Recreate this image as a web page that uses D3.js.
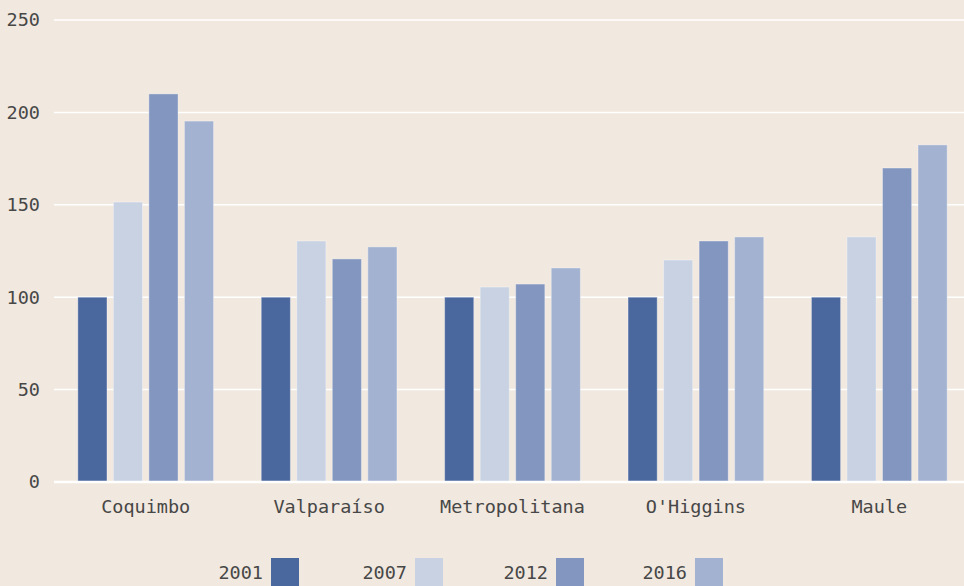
<!DOCTYPE html>
<html>
<head>
<meta charset="utf-8">
<script src="https://cdn.jsdelivr.net/npm/d3@7"></script>
<style>
  body { margin: 0; background: #f1e8df; }
  svg { display: block; }
  text { font-family: "DejaVu Sans Mono", monospace; fill: #474747; }
</style>
</head>
<body>
<div id="wrapper"></div>
<script>
const regions = ["Coquimbo", "Valparaíso", "Metropolitana", "O'Higgins", "Maule"]
const years = ["2001", "2007", "2012", "2016"]
const values2001 = [100, 100, 100, 100, 100]
const values2007 = [151.5, 130.4, 105.5, 120.1, 132.6]
const values2012 = [210, 120.7, 107.1, 130.4, 169.9]
const values2016 = [195.3, 127.2, 115.8, 132.6, 182.4]
const yTicks = [0, 50, 100, 150, 200, 250]
const colors = ["#4a679e", "#c8d2e3", "#8296bf", "#a3b2d0"]

const dimensions = {
  width: 964,
  height: 586,
  margin: { top: 20, right: 0, bottom: 104, left: 54 }
}

const seriesByYear = [values2001, values2007, values2012, values2016]
const data = regions.map((region, i) => ({
  region,
  values: years.map((year, j) => ({ year, value: seriesByYear[j][i] }))
}))

const svg = d3.select("#wrapper")
  .append("svg")
  .attr("width", dimensions.width)
  .attr("height", dimensions.height)

svg.append("rect")
  .attr("width", dimensions.width)
  .attr("height", dimensions.height)
  .attr("fill", "#f1e8df")

const yScale = d3.scaleLinear()
  .domain([0, 250])
  .range([dimensions.height - dimensions.margin.bottom, dimensions.margin.top])

const xGroup = d3.scaleBand()
  .domain(regions)
  .range([dimensions.margin.left, 971])
  .paddingInner(0.26)
  .paddingOuter(0.13)

const xBar = d3.scaleBand()
  .domain(years)
  .range([0, xGroup.bandwidth()])
  .paddingInner(0.18)

const colorScale = d3.scaleOrdinal().domain(years).range(colors)

// grid lines
svg.append("g")
  .selectAll("line")
  .data(yTicks.filter(d => d > 0))
  .join("line")
  .attr("x1", dimensions.margin.left)
  .attr("x2", dimensions.width)
  .attr("y1", d => yScale(d))
  .attr("y2", d => yScale(d))
  .attr("stroke", "#ffffff")
  .attr("stroke-width", 1.5)

// y labels
svg.append("g")
  .selectAll("text")
  .data(yTicks)
  .join("text")
  .attr("x", 40)
  .attr("y", d => yScale(d))
  .attr("dy", "0.35em")
  .attr("text-anchor", "end")
  .attr("font-size", 18.5)
  .text(d => d)

// bars
const groups = svg.append("g")
  .selectAll("g")
  .data(data)
  .join("g")
  .attr("transform", d => `translate(${xGroup(d.region)},0)`)

groups.selectAll("rect")
  .data(d => d.values)
  .join("rect")
  .attr("x", d => xBar(d.year))
  .attr("y", d => yScale(d.value))
  .attr("width", xBar.bandwidth())
  .attr("height", d => yScale(0) - yScale(d.value))
  .attr("fill", d => colorScale(d.year))
  .attr("stroke", "rgba(255,255,255,0.35)")
  .attr("stroke-width", 1)

// zero line
svg.append("line")
  .attr("x1", dimensions.margin.left)
  .attr("x2", dimensions.width)
  .attr("y1", yScale(0))
  .attr("y2", yScale(0))
  .attr("stroke", "#ffffff")
  .attr("stroke-width", 2.5)

// x labels
svg.append("g")
  .selectAll("text")
  .data(regions)
  .join("text")
  .attr("x", d => xGroup(d) + xGroup.bandwidth() / 2)
  .attr("y", yScale(0) + 25)
  .attr("dy", "0.35em")
  .attr("text-anchor", "middle")
  .attr("font-size", 18.5)
  .text(d => d)

// legend
const legendX = [271, 415, 556, 695]
const legend = svg.append("g")
  .selectAll("g")
  .data(years)
  .join("g")
  .attr("transform", (d, i) => `translate(${legendX[i]},558)`)

legend.append("rect")
  .attr("width", 28)
  .attr("height", 28)
  .attr("fill", d => colorScale(d))

legend.append("text")
  .attr("x", -8)
  .attr("y", 15)
  .attr("dy", "0.35em")
  .attr("text-anchor", "end")
  .attr("font-size", 18.5)
  .text(d => d)
</script>
</body>
</html>
